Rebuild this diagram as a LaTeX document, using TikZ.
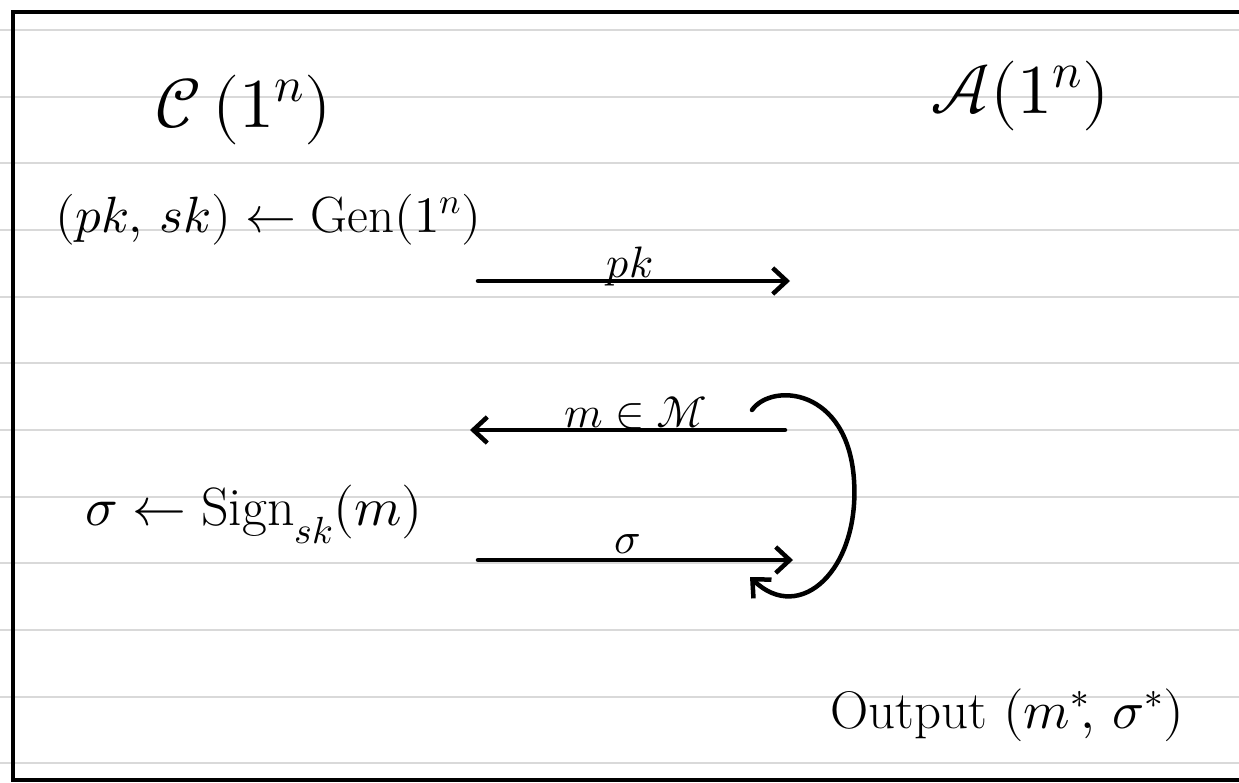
\documentclass[tikz,border=0pt]{standalone}
\usepackage{unicode-math}
\setmathfont{Latin Modern Math}
\usetikzlibrary{arrows.meta}
\begin{document}
\begin{tikzpicture}[x=1pt,y=-1pt,
  ink/.style={line width=4.5pt,line cap=round,line join=round},
  arr/.style={ink,-{Straight Barb[length=14pt,width=26pt]}},
  rule/.style={draw=black!15,line width=2pt},
  big/.style={font=\fontsize{70}{76}\selectfont,inner sep=0pt},
  txt/.style={font=\fontsize{51}{60}\selectfont,inner sep=0pt},
  lbl/.style={font=\fontsize{44}{50}\selectfont,inner sep=0pt}]
\useasboundingbox (0,0) rectangle (1239,782);
\foreach \k in {0,...,11} \draw[rule] (0,{30+66.67*\k}) -- (1239,{30+66.67*\k});
\draw[line width=4pt] (1239,12) -- (13,12) -- (13,780) -- (1239,780);
% parties
\node[big,anchor=base west] (C) at (155,127) {$\mathcal{C}\,(1^n)$};
\node[big,anchor=base west] (A) at (930,113) {$\mathcal{A}(1^n)$};
% texts
\node[txt,anchor=base west] (gen) at (55,232) {$(pk,\,sk) \leftarrow \mathrm{Gen}(1^n)$};
\node[txt,anchor=base west,font=\fontsize{54}{60}\selectfont] (sign) at (85,525) {$\sigma \leftarrow \mathrm{Sign}_{sk}(m)$};
\node[txt,anchor=base west,font=\fontsize{53}{60}\selectfont] (out) at (830,728) {Output $(m^{*}\!,\,\sigma^{*})$};
% arrows
\coordinate (pkL) at (478,281);
\coordinate (pkR) at (790,281);
\coordinate (mR) at (785,430);
\coordinate (mL) at (470,430);
\coordinate (sL) at (478,560);
\coordinate (sR) at (793,560);
\coordinate (loopS) at (752,410);
\coordinate (loopE) at (750,577);
\draw[arr] (pkL) -- (pkR);
\draw[arr] (mR) -- (mL);
\draw[arr] (sL) -- (sR);
\draw[arr] (loopS) .. controls (772,382) and (848,388) .. (854,480)
  .. controls (860,570) and (800,625) .. (loopE);
% labels
\node[lbl,anchor=base] (pk) at (630,277) {$pk$};
\node[lbl,anchor=base] (mM) at (636,427) {$m \in \mathcal{M}$};
\node[lbl,anchor=base] (sig) at (628,553) {$\sigma$};
\end{tikzpicture}
\end{document}
